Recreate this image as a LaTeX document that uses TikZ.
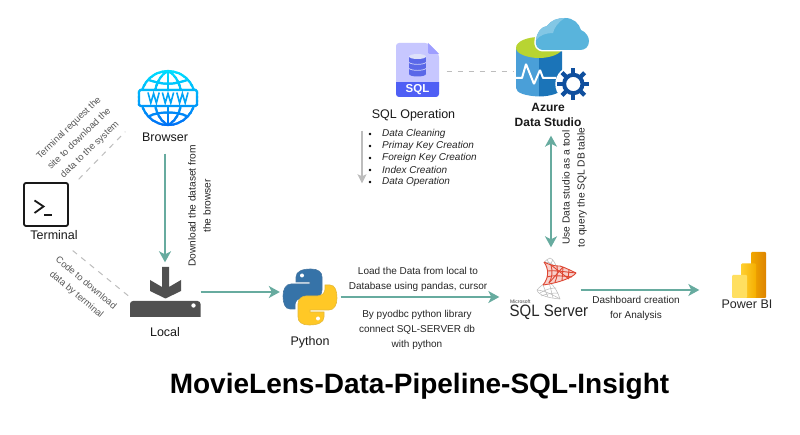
\documentclass[tikz,border=0pt]{standalone}
\usepackage{fontspec}
\setmainfont{Liberation Sans}
\usetikzlibrary{arrows.meta,calc}
\definecolor{flowc}{HTML}{67AB9F}
\definecolor{gr}{HTML}{BDBDBD}
\definecolor{dk}{HTML}{505050}
\tikzset{
 flow/.style={draw=flowc,line width=1.5pt,-{Stealth[length=11pt,width=12pt,inset=3pt]}},
 flowb/.style={draw=flowc,line width=1.5pt,{Stealth[length=11pt,width=12pt,inset=3pt]}-{Stealth[length=11pt,width=12pt,inset=3pt]}},
 dashline/.style={draw=gr,line width=1pt,dash pattern=on 5.5pt off 5.5pt},
 icon/.style={inner sep=0pt,minimum size=1pt},
 lbl/.style={font=\fontsize{12.5}{14}\selectfont,text=black!90,align=center,inner sep=0pt},
 small/.style={font=\fontsize{10}{15}\selectfont,text=black!85,align=center,inner sep=0pt},
 grayt/.style={font=\fontsize{9.4}{15}\selectfont,text=black!65,align=center,inner sep=0pt},
}
\newcommand{\wwwicon}[1]{%
 \begin{scope}[draw=#1,line width=2.2pt]
  \draw (168,98) circle (27);
  \draw (168,71) -- (168,125);
  \draw (168,71) .. controls (150,80) and (150,116) .. (168,125);
  \draw (168,71) .. controls (186,80) and (186,116) .. (168,125);
  \draw (148,79.5) .. controls (160,85) and (176,85) .. (188,79.5);
  \draw (148,116.5) .. controls (160,111) and (176,111) .. (188,116.5);
 \end{scope}
 \fill[white] (139,91) rectangle (197,106);
 \draw[#1,line width=2.2pt,rounded corners=1.5pt] (139,90) rectangle (197,106);
}
\newcommand{\www}[1]{\draw[#1,line width=1.6pt,line join=miter] (0,0) -- (2.8,10.5) -- (5.6,1) -- (8.4,10.5) -- (11.2,0);}
\begin{document}
\begin{tikzpicture}[x=1pt,y=-1pt]
\useasboundingbox (0,0) rectangle (800,435);
\fill[white] (0,0) rectangle (800,435);

% ---- anchors
\node[icon] (browser) at (165,153) {};
\node[icon] (localin) at (165,263) {};
\node[icon] (localout) at (200,292) {};
\node[icon] (pyin) at (280.5,292) {};
\node[icon] (pyout) at (340,297) {};
\node[icon] (sqlin) at (500,297) {};
\node[icon] (sqlout) at (580,290) {};
\node[icon] (pbiin) at (700,290) {};
\node[icon] (adsb) at (551,135) {};
\node[icon] (sqlt) at (551,248) {};
\node[icon] (fileR) at (446,72) {};
\node[icon] (azL) at (515,72) {};
\node[icon] (listT) at (362,130) {};
\node[icon] (listB) at (362,184) {};
\node[icon] (termA) at (78,180) {};
\node[icon] (browA) at (126,131) {};
\node[icon] (termB) at (72,250) {};
\node[icon] (locB) at (131,298) {};

% ---- browser icon, graded top to bottom
\definecolor{cA}{HTML}{00E0FF}\definecolor{cB}{HTML}{0070F5}
\foreach \i in {0,...,14}{
 \pgfmathsetmacro{\mx}{100*\i/14}
 \colorlet{bandc}{cB!\mx!cA}
 \begin{scope}
  \clip (130,{69+\i*4}) rectangle (205,{73+\i*4+.3});
  \wwwicon{bandc}
 \end{scope}
}
\definecolor{wwwc}{HTML}{00A5F7}
\begin{scope}[shift={(148,92.5)}]\www{wwwc}\end{scope}
\begin{scope}[shift={(162.4,92.5)}]\www{wwwc}\end{scope}
\begin{scope}[shift={(176.8,92.5)}]\www{wwwc}\end{scope}
\node[lbl] at (165,137.5) {Browser};

% ---- terminal
\draw[black!90,line width=1.8pt,rounded corners=2pt] (24,183) rectangle (68,226);
\draw[black!90,line width=1.8pt] (34.5,200.5) -- (43.5,206.5) -- (34.5,213);
\draw[black!90,line width=1.8pt] (44,215) -- (52,215);
\node[lbl] at (54,235) {Terminal};

% ---- local
\fill[dk] (165.5,298.5) -- (150,291) -- (150,280) -- (162,287) -- (162,267) -- (169,267) -- (169,287) -- (181,280) -- (181,291) -- cycle;
\begin{scope}
\clip (125,295) rectangle (205,317);
\fill[dk,rounded corners=3pt] (130,325) -- (130,301) -- (200.5,301) -- (200.5,325) -- cycle;
\end{scope}
\fill[white] (193.5,305.5) circle (2.2);
\node[lbl] at (165,332) {Local};

% ---- python
\definecolor{pyb}{HTML}{3673A8}\definecolor{pyy}{HTML}{FFC826}
\newcommand{\snake}{(311,269) .. controls (318,269) and (322,272) .. (322,277) -- (322,290)
  .. controls (322,295) and (318,298) .. (314,298) -- (303,298)
  .. controls (298,298) and (295,301) .. (295,305) -- (295,309) -- (290,309)
  .. controls (285,309) and (283,303) .. (283,296)
  .. controls (283,289) and (286,284) .. (291,284) -- (310,284) -- (310,282) -- (296,282) -- (296,277)
  .. controls (296,271) and (303,269) .. (311,269) -- cycle}
\draw[fill=pyb,draw=pyb!80!gray,line width=.6pt] \snake;
\begin{scope}[shift={(620,594)},xscale=-1,yscale=-1]
\draw[fill=pyy,draw=pyy!80!gray,line width=.6pt] \snake;
\fill[white] (302,275.5) circle (2);
\end{scope}
\fill[white] (302,275.5) circle (2);
\node[lbl] at (310,342.5) {Python};

% ---- SQL file
\definecolor{fileb}{HTML}{4F5FF5}
\fill[blue!22!white,rounded corners=3pt] (396,90) -- (396,43) -- (428,43) -- (439,54) -- (439,90) -- cycle;
\fill[blue!38!white] (428,43) -- (439,54) -- (430,54) .. controls (428.5,54) and (428,53) .. (428,52) -- cycle;
\begin{scope}
\clip (390,83) rectangle (445,100);
\fill[fileb,rounded corners=3pt] (396,75) -- (396,97) -- (439,97) -- (439,75) -- cycle;
\end{scope}
\node[font=\bfseries\fontsize{11.5}{12}\selectfont,text=white,inner sep=0pt] at (417.5,90) {SQL};
\definecolor{dbc}{HTML}{5A68E8}
\fill[dbc] (409,57) rectangle (426,74);
\fill[dbc] (417.5,74) ellipse (8.5 and 2.5);
\fill[white!80!dbc] (417.5,56.5) ellipse (8.5 and 2.5);
\draw[white!70!dbc,line width=.7pt] (409,62.5) .. controls (412,65) and (423,65) .. (426,62.5);
\draw[white!70!dbc,line width=.7pt] (409,68.5) .. controls (412,71) and (423,71) .. (426,68.5);
\node[lbl] at (413.5,115) {SQL Operation};

% ---- SQL list
\foreach \y/\t in {134/Data Cleaning,146/Primay Key Creation,158/Foreign Key Creation,170/Index Creation,182/Data Operation}{
 \fill[black] (370,\y) circle (1.3);
 \node[anchor=west,inner sep=0pt,font=\itshape\fontsize{10}{11}\selectfont,text=black!85] at (382,\y) {\t};
}

% ---- Azure data studio
\definecolor{azl}{HTML}{4A9FD8}\definecolor{azd}{HTML}{1B74B8}\definecolor{azg}{HTML}{B8D432}
\fill[azl] (516,48) -- (516,88) .. controls (516,93) and (526,96) .. (539,96.5) -- (539,58) -- cycle;
\fill[azd] (539,58) -- (539,96.5) .. controls (550,96.5) and (562,93) .. (562,88) -- (562,48) -- cycle;
\fill[azg] (516,48) .. controls (516,41) and (528,37) .. (539,37) .. controls (550,37) and (562,41) .. (562,48) .. controls (562,54) and (550,58) .. (539,58) .. controls (528,58) and (516,54) .. (516,48) -- cycle;
\draw[white,line width=2pt,line join=bevel] (516,78) -- (522,78) -- (526,64) -- (534,84) -- (540,70) -- (543,78) -- (556,78);
% gear
\definecolor{gearc}{HTML}{0F4F9E}
\fill[white] (573.3,84) circle (18);
\foreach \a in {0,45,...,315}{
 \fill[gearc,rotate around={\a:(573.3,84)}] (571.2,68) rectangle (575.4,75);
}
\draw[gearc,line width=4pt] (573.3,84) circle (9.2);
% cloud
\definecolor{clc}{HTML}{59B4DC}
\fill[white] (544,51.5) .. controls (536,51.5) and (533.5,46) .. (534.5,40) .. controls (535.5,31) and (540,26) .. (546,25)
 .. controls (551,19) and (558,17) .. (565,17) -- (580,51.5) -- cycle;
\fill[clc] (544,50) .. controls (537,50) and (535,45) .. (536,40) .. controls (537,32) and (541,27) .. (547,26)
 .. controls (551,20) and (558,18) .. (565,18) .. controls (573,18) and (579,23) .. (581,30)
 .. controls (586,32) and (589,37) .. (589,41) .. controls (589,47) and (585,50) .. (580,50) -- cycle;
\fill[white!25!clc] (536,40) .. controls (537,32) and (541,27) .. (547,26) .. controls (551,20) and (558,18) .. (565,18)
 .. controls (558,22) and (554,28) .. (553,33) .. controls (546,33) and (540,35) .. (536,40) -- cycle;
\node[font=\bfseries\fontsize{12}{15}\selectfont,text=black!90,align=center,inner sep=0pt] at (548,114.5) {Azure\\Data Studio};

% ---- SQL Server
\begin{scope}[draw=black!28,line width=.5pt]
 \draw (550,258) .. controls (547,259) and (545,261) .. (544,263);
 \draw (550,258) .. controls (553,259) and (555,263) .. (557,268);
 \draw (544,263) .. controls (549,261) and (553,264) .. (556,268);
 \draw (547,260) -- (552,267);
 \draw (553,260) -- (549,266);
 \draw (537,290) .. controls (540,286) and (545,283) .. (549,282);
 \draw (537,290) .. controls (538,295) and (548,298) .. (560,299);
 \draw (537,290) .. controls (546,291) and (553,295) .. (560,299);
 \draw (549,282) .. controls (555,286) and (558,293) .. (560,299);
 \draw (543,285) -- (548,297);
 \draw (549,282) -- (553,298);
 \draw (540,293) .. controls (546,289) and (552,288) .. (556,288);
 \draw (541,296) .. controls (546,294) and (552,293) .. (558,293);
\end{scope}
\definecolor{sqlr}{RGB}{222,70,50}
\fill[sqlr!25!white] (544,262) .. controls (552,266) and (556,266) .. (560,266) .. controls (566,268) and (572,271) .. (576,273) .. controls (572,278) and (558,283) .. (543,285) .. controls (549,278) and (549,269) .. (544,262) -- cycle;
\begin{scope}[draw=sqlr,line width=.9pt]
 \draw (544,262) .. controls (552,266) and (556,266) .. (560,266);
 \draw (560,266) .. controls (566,268) and (572,271) .. (576,273);
 \draw (544,262) .. controls (549,269) and (549,278) .. (543,285);
 \draw (543,285) .. controls (558,283) and (572,278) .. (576,273);
 \draw (551,265) .. controls (553,272) and (552,278) .. (549,283);
 \draw (557,266) .. controls (558,272) and (557,278) .. (555,282);
 \draw (563,267) -- (562,281);
 \draw (569,270) -- (568,279);
 \draw (548,271) .. controls (555,270) and (565,272) .. (576,273);
 \draw (547,277) .. controls (553,275) and (563,276) .. (572,277);
 \draw (551,265) -- (569,279);
 \draw (563,267) -- (549,283);
\end{scope}
\node[anchor=west,inner sep=0pt,font=\fontsize{5}{6}\selectfont,text=black!75] at (510,301.5) {Microsoft};
\node[anchor=west,inner sep=0pt,font=\fontsize{16.5}{18}\selectfont,text=black!85] at (509.5,312.5) {\scalebox{.91}[1]{SQL Server}};

% ---- Power BI
\definecolor{paL}{HTML}{F2A800}\definecolor{paR}{HTML}{DD8400}
\definecolor{pbL}{HTML}{FFD030}\definecolor{pbR}{HTML}{F5AE00}
\definecolor{pc}{HTML}{FFDF60}
\shade[left color=paL,right color=paR,rounded corners=1pt] (751,252) rectangle (766,298);
\shade[left color=pbL,right color=pbR,rounded corners=1pt] (741,263.5) rectangle (756,298);
\fill[pc,rounded corners=1pt] (732,275) rectangle (747,298);
\node[font=\fontsize{12.5}{14}\selectfont,text=black!85,inner sep=0pt] at (747,304.5) {Power BI};

% ---- connectors
\draw[flow] (browser) -- (localin);
\draw[flow] (localout) -- (pyin);
\draw[flow] (pyout) -- (sqlin);
\draw[flow] (sqlout) -- (pbiin);
\draw[flowb] (adsb) -- (sqlt);
\draw[dashline] (fileR) -- (azL);
\draw[dashline] (termA) -- (browA);
\draw[dashline] (termB) -- (locB);
\draw[draw=gr,line width=1.1pt,-{Stealth[length=9pt,width=9pt,inset=2pt]}] (listT) -- (listB);

% ---- labels
\node[grayt,rotate=44] at (79.5,139) {Terminal request the\\site to download the\\data to the system};
\node[grayt,rotate=-40] at (81,289) {Code to download\\data by terminal};
\node[small,rotate=90,font=\fontsize{10.2}{15}\selectfont] at (199.5,206) {Download the dataset from\\the browser};
\node[small,rotate=90,font=\fontsize{10.2}{15}\selectfont] at (574.5,187.5) {Use Data studio as a tool\\to query the SQL DB table};
\node[small] at (418,279.5) {Load the Data from local to\\Database using pandas, cursor};
\node[small] at (417,329.5) {By pyodbc python library\\connect SQL-SERVER db\\with python};
\node[small] at (636,308.5) {Dashboard creation\\for Analysis};
\node[font=\bfseries\fontsize{28}{30}\selectfont,text=black,inner sep=0pt] at (419.5,386) {MovieLens-Data-Pipeline-SQL-Insight};
\end{tikzpicture}
\end{document}
